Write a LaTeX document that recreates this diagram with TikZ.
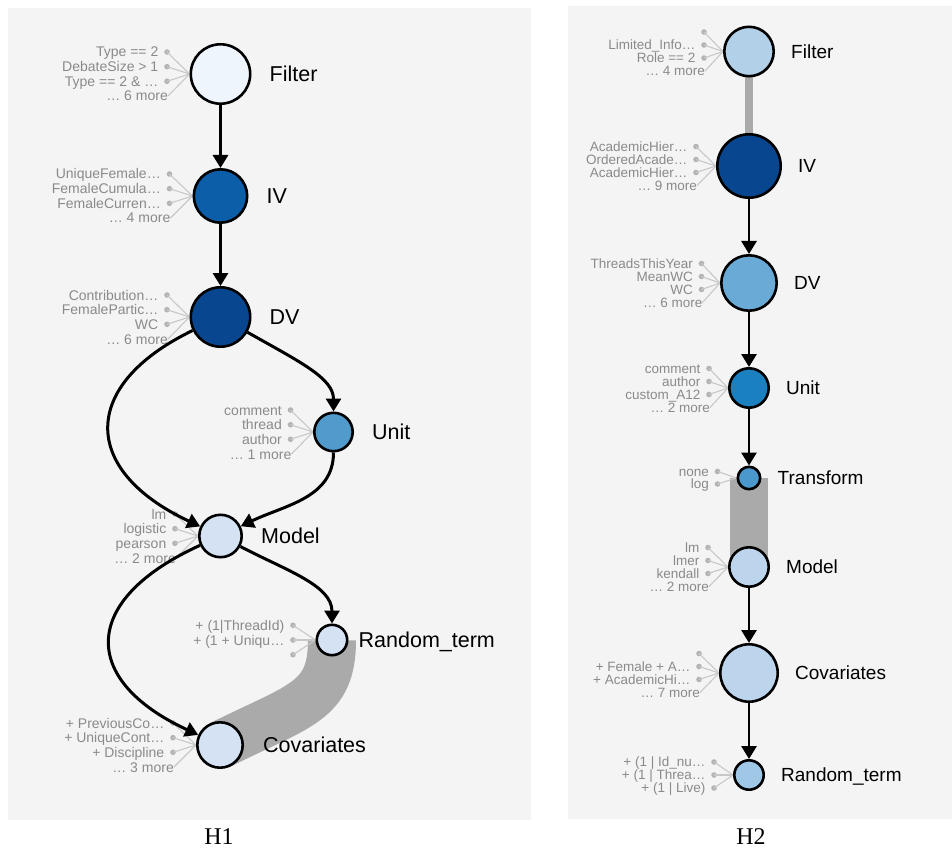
\documentclass[tikz,border=0pt]{standalone}
\usepackage{fontspec}
\setmainfont{Liberation Sans}
\newfontfamily\capfont{Liberation Serif}
\usetikzlibrary{calc,arrows.meta,backgrounds,positioning}
\definecolor{panel}{RGB}{244,244,244}
\definecolor{bandgray}{RGB}{170,170,170}
\definecolor{leaflinec}{RGB}{200,200,200}
\definecolor{leafdotc}{RGB}{180,180,180}
\definecolor{leaftext}{RGB}{138,138,138}
\definecolor{paleA}{RGB}{238,245,253}
\definecolor{midA}{RGB}{12,94,168}
\definecolor{darkA}{RGB}{8,70,143}
\definecolor{unitA}{RGB}{80,155,203}
\definecolor{lightA}{RGB}{212,226,243}
\definecolor{filtB}{RGB}{178,209,233}
\definecolor{dvB}{RGB}{106,170,214}
\definecolor{unitB}{RGB}{26,128,191}
\definecolor{trfB}{RGB}{75,153,204}
\definecolor{lightB}{RGB}{188,213,236}
\definecolor{rndB}{RGB}{159,199,230}
\newcommand{\fandot}[3]{%
  \fill[leafdot] ($(#1.west)+(#2,#3)$) circle (2.8);
  \draw[leafline] ($(#1.west)+(#2,#3)$) -- (#1.west);}
\newcommand{\fanleaf}[5]{%
  \fandot{#1}{#3}{#4}
  \node[leaf,anchor=east] (#1l#2) at ($(#1.west)+(#3-8.5,#4)$) {#5};}
\newcommand{\fanmore}[4]{%
  \draw[leafline] ($(#1.west)+(#2+1,#3)$) -- (#1.west);
  \node[leaf,anchor=east] (#1m) at ($(#1.west)+(#2+1,#3)$) {#4};}

\begin{document}
\begin{tikzpicture}[x=1pt,y=-1pt,
    varnode/.style={circle,draw=black,line width=2.6pt,inner sep=0pt},
    varname/.style={inner sep=0pt,text height=15.4pt,text depth=0pt,
      font=\fontsize{21.5}{24}\selectfont},
    leaf/.style={inner sep=0pt,text=leaftext,text height=10pt,text depth=0pt,
      font=\fontsize{14}{16}\selectfont},
    leafdot/.style={fill=leafdotc},
    leafline/.style={draw=leaflinec,line width=1.1pt},
    band/.style={draw=bandgray,line width=#1},
    arr/.style={-{Triangle[width=15pt,length=13pt]},line width=3pt},
    caption/.style={inner sep=0pt,text height=16pt,text depth=0pt,
      font=\capfont\fontsize{24}{26}\selectfont}]
  \useasboundingbox (0,0) rectangle (952,850);

  % H1
  \node[varnode,fill=paleA,minimum size=59.4pt] (F1) at (220.5,74) {};
  \node[varnode,fill=midA,minimum size=53.4pt] (IV1) at (220.5,196) {};
  \node[varnode,fill=darkA,minimum size=59.4pt] (DV1) at (220.5,317) {};
  \node[varnode,fill=unitA,minimum size=38.4pt] (U1) at (333.5,432) {};
  \node[varnode,fill=lightA,minimum size=42.4pt] (M1) at (220.5,536) {};
  \node[varnode,fill=lightA,minimum size=30.4pt] (R1) at (332,640) {};
  \node[varnode,fill=lightA,minimum size=45.4pt] (C1) at (220,745) {};
  \node[varname,right=18pt of F1] (F1t) {Filter};
  \node[varname,right=18pt of IV1] (IV1t) {IV};
  \node[varname,right=18pt of DV1] (DV1t) {DV};
  \node[varname,right=18pt of U1] (U1t) {Unit};
  \node[varname,right=18pt of M1] (M1t) {Model};
  \node[varname,right=10pt of R1] (R1t) {Random\_term};
  \node[varname,right=19pt of C1] (C1t) {Covariates};

  % H2
  \begin{scope}[varname/.append style={text height=13.6pt,
      font=\fontsize{19}{22}\selectfont}]
    \node[varnode,fill=filtB,minimum size=49.4pt] (F2) at (749,51.5) {};
    \node[varnode,fill=darkA,minimum size=63.4pt] (IV2) at (749,166) {};
    \node[varnode,fill=dvB,minimum size=55.4pt] (DV2) at (749,283) {};
    \node[varnode,fill=unitB,minimum size=39.4pt] (U2) at (749,388) {};
    \node[varnode,fill=trfB,minimum size=22.4pt] (T2) at (749,478) {};
    \node[varnode,fill=lightB,minimum size=39.4pt] (M2) at (749,567) {};
    \node[varnode,fill=lightB,minimum size=57.4pt] (C2) at (749,673) {};
    \node[varnode,fill=rndB,minimum size=29.4pt] (R2) at (749,775) {};
    \node[varname,right=16pt of F2] (F2t) {Filter};
    \node[varname,right=16pt of IV2] (IV2t) {IV};
    \node[varname,right=16pt of DV2] (DV2t) {DV};
    \node[varname,right=16pt of U2] (U2t) {Unit};
    \node[varname,right=16pt of T2] (T2t) {Transform};
    \node[varname,right=16pt of M2] (M2t) {Model};
    \node[varname,right=16pt of C2] (C2t) {Covariates};
    \node[varname,right=16pt of R2] (R2t) {Random\_term};
  \end{scope}

  \node[caption] (H1) at (219,836) {H1};
  \node[caption] (H2) at (751,836) {H2};

  \begin{scope}[on background layer]
    \fill[white] (0,0) rectangle (952,850);
    \fill[panel] (8,8) rectangle (531,820);
    \fill[panel] (568,6) rectangle (952,819);

    % bands
    \draw[band=48pt] (R1.center) .. controls +(0,62) and +(80,-40) .. (C1.center);
    \draw[band=8pt] (F2.center) -- (IV2.center);
    \draw[band=38pt] (T2.center) -- (M2.center);

    % H1 leaves
    \foreach \dy/\t [count=\i] in {-22/Type == 2,-7.3/DebateSize > 1,7.3/Type == 2 \& …}
      {\fanleaf{F1}{\i}{-22.5}{\dy}{\t}}
    \fanmore{F1}{-22.5}{22}{… 6 more}
    \foreach \dy/\t [count=\i] in {-22/UniqueFemale…,-7.3/FemaleCumula…,7.3/FemaleCurren…}
      {\fanleaf{IV1}{\i}{-23}{\dy}{\t}}
    \fanmore{IV1}{-23}{22}{… 4 more}
    \foreach \dy/\t [count=\i] in {-22/Contribution…,-7.3/FemalePartic…,7.3/WC}
      {\fanleaf{DV1}{\i}{-22.5}{\dy}{\t}}
    \fanmore{DV1}{-22.5}{22}{… 6 more}
    \foreach \dy/\t [count=\i] in {-22/comment,-7.3/thread,7.3/author}
      {\fanleaf{U1}{\i}{-22.5}{\dy}{\t}}
    \fanmore{U1}{-22.5}{22}{… 1 more}
    \foreach \dy/\t [count=\i] in {-22/lm,-7.3/logistic,7.3/pearson}
      {\fanleaf{M1}{\i}{-23}{\dy}{\t}}
    \fanmore{M1}{-23}{22}{… 2 more}
    \foreach \dy/\t [count=\i] in {-14.7/+ (1|ThreadId),0/+ (1 + Uniqu…}
      {\fanleaf{R1}{\i}{-22.5}{\dy}{\t}}
    \fandot{R1}{-22.5}{14.7}
    \foreach \dy/\t [count=\i] in {-22/+ PreviousCo…,-7.3/+ UniqueCont…,7.3/+ Discipline}
      {\fanleaf{C1}{\i}{-23}{\dy}{\t}}
    \fanmore{C1}{-23}{22}{… 3 more}

    % H2 leaves
    \begin{scope}[leaf/.append style={text height=9.7pt,
        font=\fontsize{13.5}{15}\selectfont}]
      \fandot{F2}{-19}{-19.5}
      \foreach \dy/\t [count=\i] in {-6.5/Limited\_Info…,6.5/Role == 2}
        {\fanleaf{F2}{\i}{-19}{\dy}{\t}}
      \fanmore{F2}{-19}{19.5}{… 4 more}
      \foreach \dy/\t [count=\i] in {-19.5/AcademicHier…,-6.5/OrderedAcade…,6.5/AcademicHier…}
        {\fanleaf{IV2}{\i}{-20}{\dy}{\t}}
      \fanmore{IV2}{-20}{19.5}{… 9 more}
      \foreach \dy/\t [count=\i] in {-19.5/ThreadsThisYear,-6.5/MeanWC,6.5/WC}
        {\fanleaf{DV2}{\i}{-18.5}{\dy}{\t}}
      \fanmore{DV2}{-18.5}{19.5}{… 6 more}
      \foreach \dy/\t [count=\i] in {-19.5/comment,-6.5/author,6.5/custom\_A12}
        {\fanleaf{U2}{\i}{-19}{\dy}{\t}}
      \fanmore{U2}{-19}{19.5}{… 2 more}
      \foreach \dy/\t [count=\i] in {-6.5/none,6/log}
        {\fanleaf{T2}{\i}{-19}{\dy}{\t}}
      \foreach \dy/\t [count=\i] in {-19.5/lm,-6.5/lmer,6.5/kendall}
        {\fanleaf{M2}{\i}{-20}{\dy}{\t}}
      \fanmore{M2}{-20}{19.5}{… 2 more}
      \fandot{C2}{-20}{-19.5}
      \foreach \dy/\t [count=\i] in {-6.5/+ Female + A…,6.5/+ AcademicHi…}
        {\fanleaf{C2}{\i}{-20}{\dy}{\t}}
      \fanmore{C2}{-20}{19.5}{… 7 more}
      \foreach \dy/\t [count=\i] in {-13/+ (1 | Id\_nu…,0/+ (1 | Threa…,13/+ (1 | Live)}
        {\fanleaf{R2}{\i}{-19}{\dy}{\t}}
    \end{scope}

    % H1 arrows
    \draw[arr] (F1) -- (IV1);
    \draw[arr] (IV1) -- (DV1);
    \draw[arr] (DV1) .. controls (300,362) and (333.5,378) .. (U1);
    \draw[arr] (DV1) .. controls (80,385) and (80,470) .. (M1);
    \draw[arr] (U1) .. controls (333.5,498) and (285,505) .. (M1);
    \draw[arr] (M1) .. controls (285,570) and (332,585) .. (R1);
    \draw[arr] (M1) .. controls (80,600) and (80,680) .. (C1);

    % H2 arrows
    \draw[arr,line width=2.8pt] (IV2) -- (DV2);
    \draw[arr,line width=2.8pt] (DV2) -- (U2);
    \draw[arr,line width=2.8pt] (U2) -- (T2);
    \draw[arr,line width=2.8pt] (M2) -- (C2);
    \draw[arr,line width=2.8pt] (C2) -- (R2);
  \end{scope}
\end{tikzpicture}
\end{document}
